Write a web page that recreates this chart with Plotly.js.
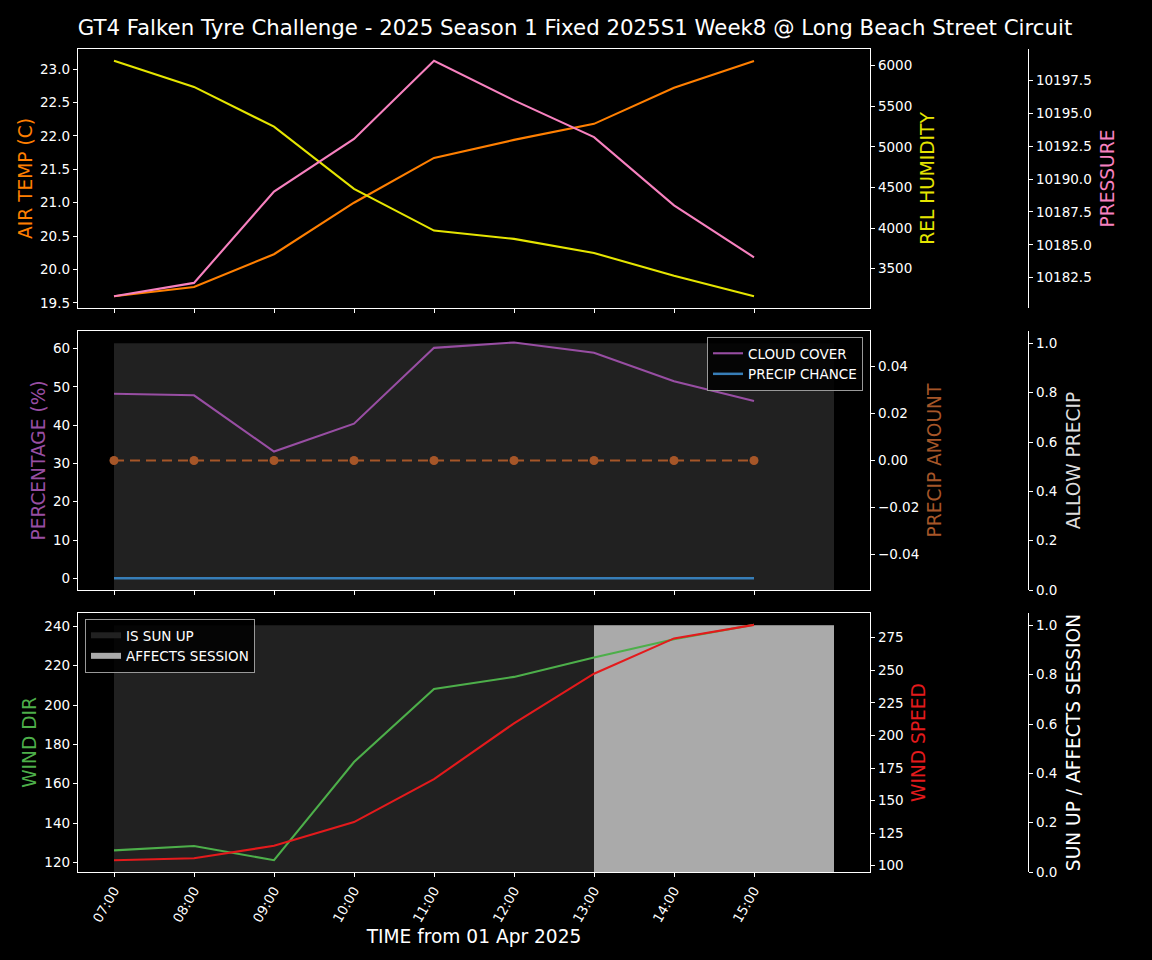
<!DOCTYPE html>
<html><head><meta charset="utf-8">
<script src="https://cdn.plot.ly/plotly-3.0.1.min.js"></script>
<style>body{margin:0;background:#000}</style>
</head><body><div id="chart" style="width:1152px;height:960px"></div>
<script>
const hourLabels = ["07:00","08:00","09:00","10:00","11:00","12:00","13:00","14:00","15:00"];
const shadeEdgeLabels = ["07:00","08:00","09:00","10:00","11:00","12:00","13:00","14:00","15:00","16:00"];
const dateStr = "2025-04-01";
const airTemp = [19.60,19.74,20.23,21.00,21.67,21.94,22.18,22.72,23.12];
const relHumidity = [6060,5738,5249,4482,3969,3867,3693,3414,3161];
const pressure = [10181.09,10182.10,10189.05,10193.06,10199.02,10196.0,10193.2,10188.0,10184.05];
const cloudCover = [48.2,47.8,33.1,40.4,60.2,61.6,58.9,51.5,46.3];
const precipChance = [0,0,0,0,0,0,0,0,0];
const precipAmount = [0,0,0,0,0,0,0,0,0];
const allowPrecip = [1,1,1,1,1,1,1,1,1];
const windDir = [126.1,128.3,121.1,171.0,208.2,214.3,224.2,233.5,240.8];
const windSpeed = [104.2,105.7,115.3,133.5,166.5,209.3,247.4,274.5,284.9];
const sunUp = [1,1,1,1,1,1,1,1,1];
const affectsSession = [0,0,0,0,0,0,1,1,1];

const X = hourLabels.map(h => dateStr + " " + h);
const XE = shadeEdgeLabels.map(h => dateStr + " " + h);
const step = v => v.concat([v[v.length-1]]);

const FONT = "DejaVu Sans, sans-serif";
const C = {orange:"#ff7f00", yellow:"#e5e500", pink:"#f781bf", purple:"#984ea3", blue:"#377eb8",
  brown:"#a65628", green:"#4daf4a", red:"#e41a1c", shade:"#212121", session:"#aaaaaa"};

const traces = [
  // top panel
  {x:X, y:airTemp, xaxis:"x", yaxis:"y", mode:"lines", line:{color:C.orange,width:2.1}, showlegend:false, name:"AIR TEMP"},
  {x:X, y:relHumidity, xaxis:"x", yaxis:"y2", mode:"lines", line:{color:C.yellow,width:2.1}, showlegend:false, name:"REL HUMIDITY"},
  {x:X, y:pressure, xaxis:"x", yaxis:"y3", mode:"lines", line:{color:C.pink,width:2.1}, showlegend:false, name:"PRESSURE"},
  // middle panel
  {x:XE, y:step(allowPrecip), xaxis:"x2", yaxis:"y6", mode:"none", fill:"tozeroy", line:{shape:"hv",width:0}, fillcolor:C.shade, showlegend:false, name:"ALLOW PRECIP"},
  {x:X, y:cloudCover, xaxis:"x2", yaxis:"y4", mode:"lines", line:{color:C.purple,width:2.1}, name:"CLOUD COVER", legend:"legend"},
  {x:X, y:precipChance, xaxis:"x2", yaxis:"y4", mode:"lines", line:{color:C.blue,width:2.5}, name:"PRECIP CHANCE", legend:"legend"},
  {x:X, y:precipAmount, xaxis:"x2", yaxis:"y5", mode:"lines+markers", line:{color:C.brown,width:2,dash:"10px,6px"}, marker:{color:C.brown,size:9}, showlegend:false, name:"PRECIP AMOUNT"},
  // bottom panel
  {x:XE, y:step(sunUp), xaxis:"x3", yaxis:"y9", mode:"none", fill:"tozeroy", line:{shape:"hv",width:0}, fillcolor:C.shade, name:"IS SUN UP", legend:"legend2"},
  {x:XE, y:step(affectsSession), xaxis:"x3", yaxis:"y9", mode:"none", fill:"tozeroy", line:{shape:"hv",width:0}, fillcolor:C.session, name:"AFFECTS SESSION", legend:"legend2"},
  {x:X, y:windDir, xaxis:"x3", yaxis:"y7", mode:"lines", line:{color:C.green,width:2.1}, showlegend:false, name:"WIND DIR"},
  {x:X, y:windSpeed, xaxis:"x3", yaxis:"y8", mode:"lines", line:{color:C.red,width:2.1}, showlegend:false, name:"WIND SPEED"}
];

const tickFont = {family:FONT, size:13.5, color:"#ffffff"};
const titleFont = c => ({family:FONT, size:18.6, color:c});
const base = {showgrid:false, zeroline:false, showline:true, linecolor:"#ffffff", linewidth:1.2,
  ticks:"outside", ticklen:4, tickwidth:1, tickcolor:"#ffffff", tickfont:tickFont};
const xRange = [dateStr+" 06:33:00", dateStr+" 16:27:00"];
const xCommon = Object.assign({}, base, {type:"date", range:xRange, domain:[78/1152, 870/1152],
  tickmode:"array", tickvals:X, ticktext:hourLabels, mirror:true});

const dTop = [1-308/960, 1-49/960], dMid = [1-590/960, 1-331/960], dBot = [1-872/960, 1-613/960];
const posFree = 1028/1152;

const layout = {
  width:1152, height:960, paper_bgcolor:"#000000", plot_bgcolor:"#000000",
  margin:{l:0,r:0,t:0,b:0}, font:{family:FONT, color:"#ffffff"},
  title:{text:"GT4 Falken Tyre Challenge - 2025 Season 1 Fixed 2025S1 Week8 @ Long Beach Street Circuit",
    font:{family:FONT,size:21.3,color:"#ffffff"}, x:575/1152, xanchor:"center", xref:"container", y:1-28/960, yanchor:"middle", yref:"container"},
  xaxis: Object.assign({}, xCommon, {anchor:"y", showticklabels:false}),
  xaxis2: Object.assign({}, xCommon, {anchor:"y6", showticklabels:false, matches:"x"}),
  xaxis3: Object.assign({}, xCommon, {anchor:"y9", matches:"x", tickangle:-60,
    title:{text:"TIME from 01 Apr 2025", font:titleFont("#ffffff"), standoff:5}}),
  // top
  yaxis: Object.assign({}, base, {domain:dTop, anchor:"x", side:"left", mirror:true, range:[19.425,23.30], dtick:0.5, tickformat:".1f",
    title:{text:"AIR TEMP (C)", font:titleFont(C.orange), standoff:2}}),
  yaxis2: Object.assign({}, base, {overlaying:"y", anchor:"x", side:"right", range:[3016,6205], dtick:500, tickformat:"d",
    title:{text:"REL HUMIDITY", font:titleFont(C.yellow), standoff:9}}),
  yaxis3: Object.assign({}, base, {overlaying:"y", anchor:"free", position:posFree, side:"right", range:[10180.19,10199.91], dtick:2.5, tickformat:".1f",
    title:{text:"PRESSURE", font:titleFont(C.pink), standoff:10}}),
  // middle (base = y6)
  yaxis6: Object.assign({}, base, {domain:dMid, anchor:"free", position:posFree, side:"right", range:[0,1.05], dtick:0.2, tickformat:".1f",
    title:{text:"ALLOW PRECIP", font:titleFont("#dddddd"), standoff:10}}),
  yaxis4: Object.assign({}, base, {overlaying:"y6", anchor:"x2", side:"left", mirror:true, range:[-3.06,64.6], dtick:10,
    title:{text:"PERCENTAGE (%)", font:titleFont(C.purple), standoff:2}}),
  yaxis5: Object.assign({}, base, {overlaying:"y6", anchor:"x2", side:"right", range:[-0.055,0.055], dtick:0.02, tickformat:".2f",
    title:{text:"PRECIP AMOUNT", font:titleFont(C.brown), standoff:9}}),
  // bottom (base = y9)
  yaxis9: Object.assign({}, base, {domain:dBot, anchor:"free", position:posFree, side:"right", range:[0,1.05], dtick:0.2, tickformat:".1f",
    title:{text:"SUN UP / AFFECTS SESSION", font:titleFont("#ffffff"), standoff:10}}),
  yaxis7: Object.assign({}, base, {overlaying:"y9", anchor:"x3", side:"left", mirror:true, range:[115.1,246.8], dtick:20,
    title:{text:"WIND DIR", font:titleFont(C.green), standoff:2}}),
  yaxis8: Object.assign({}, base, {overlaying:"y9", anchor:"x3", side:"right", range:[95.2,294.0], dtick:25,
    title:{text:"WIND SPEED", font:titleFont(C.red), standoff:9}}),
  legend:{x:863/1152, xanchor:"right", y:1-337/960, yanchor:"top", xref:"paper", yref:"paper",
    bgcolor:"rgba(0,0,0,0.85)", bordercolor:"#999999", borderwidth:1, font:{family:FONT,size:13.5,color:"#ffffff"}, tracegroupgap:0},
  legend2:{x:85/1152, xanchor:"left", y:1-619/960, yanchor:"top", xref:"paper", yref:"paper",
    bgcolor:"rgba(0,0,0,0.85)", bordercolor:"#999999", borderwidth:1, font:{family:FONT,size:13.5,color:"#ffffff"}, tracegroupgap:0}
};

Plotly.newPlot("chart", traces, layout, {displayModeBar:false, staticPlot:true});
</script></body></html>
